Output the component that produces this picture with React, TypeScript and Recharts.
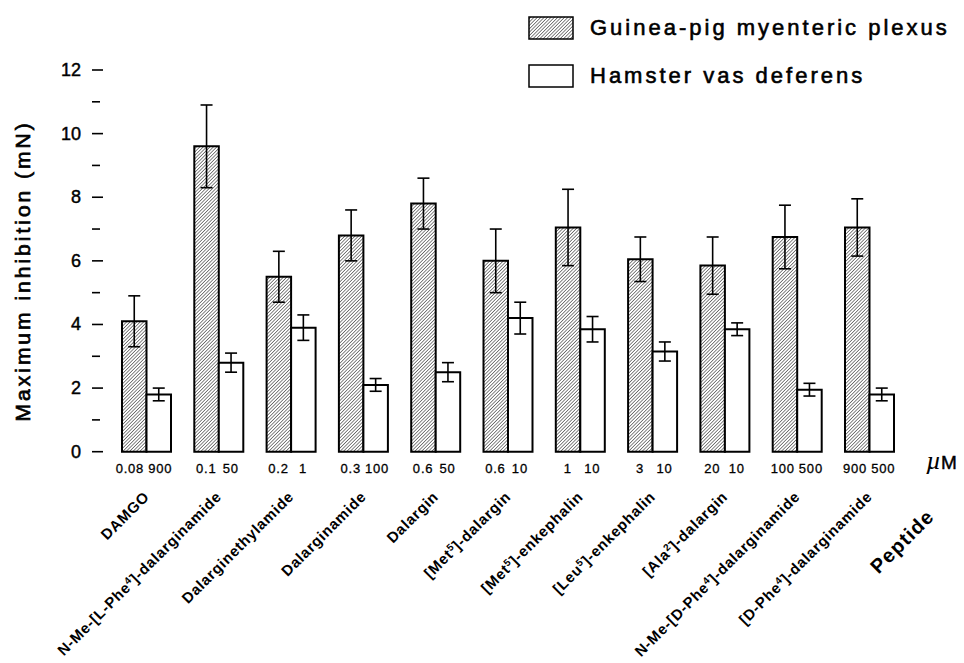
import { BarChart, Bar, XAxis, YAxis, ErrorBar, Legend } from 'recharts'

const FONT = '"Liberation Sans", Arial, Helvetica, sans-serif'

// peptides and the concentrations (µM) tested in each tissue
const categories = [
  'DAMGO',
  'N-Me-[L-Phe⁴]-dalarginamide',
  'Dalarginethylamide',
  'Dalarginamide',
  'Dalargin',
  '[Met⁵]-dalargin',
  '[Met⁵]-enkephalin',
  '[Leu⁵]-enkephalin',
  '[Ala²]-dalargin',
  'N-Me-[D-Phe⁴]-dalarginamide',
  '[D-Phe⁴]-dalarginamide',
]
const guineaPigConc = ['0.08', '0.1', '0.2', '0.3', '0.6', '0.6', '1', '3', '20', '100', '900']
const hamsterConc = ['900', '50', '1', '100', '50', '10', '10', '10', '10', '500', '500']

// maximum inhibition (mN), mean and s.e.m.
const guineaPig = [4.1, 9.6, 5.5, 6.8, 7.8, 6.0, 7.05, 6.05, 5.85, 6.75, 7.05]
const guineaPigSem = [0.8, 1.3, 0.8, 0.8, 0.8, 1.0, 1.2, 0.7, 0.9, 1.0, 0.9]
const hamster = [1.8, 2.8, 3.9, 2.1, 2.5, 4.2, 3.85, 3.15, 3.85, 1.95, 1.8]
const hamsterSem = [0.2, 0.3, 0.4, 0.2, 0.3, 0.5, 0.4, 0.3, 0.2, 0.2, 0.2]

const yTicks = [0, 1, 2, 3, 4, 5, 6, 7, 8, 9, 10, 11, 12]

const data = categories.map((name, i) => ({
  name,
  guinea: guineaPig[i],
  guineaSem: guineaPigSem[i],
  hamster: hamster[i],
  hamsterSem: hamsterSem[i],
}))

const BAR = 24.5
// slight outline so the thin sans reads as the heavier print face
const INK = { stroke: '#000', strokeWidth: 0.45 }

const SUPERS: Record<string, string> = { '²': '2', '⁴': '4', '⁵': '5' }

// split names so superscript digits get raised in a smaller size
function renderName(name: string) {
  const parts: JSX.Element[] = []
  let buf = ''
  let raised = false
  let k = 0
  for (const ch of name) {
    if (SUPERS[ch]) {
      if (buf) parts.push(<tspan key={k++} dy={raised ? 5 : 0}>{buf}</tspan>)
      parts.push(<tspan key={k++} dy={-5} fontSize={10}>{SUPERS[ch]}</tspan>)
      buf = ''
      raised = true
    } else {
      buf += ch
    }
  }
  if (buf) parts.push(<tspan key={k++} dy={raised ? 5 : 0}>{buf}</tspan>)
  return parts
}

// concentration under its own bar; long numbers hug the middle of the pair instead
function ConcLabel({ x, y, value, side }: { x: number; y: number; value: string; side: -1 | 1 }) {
  const wide = value.length >= 3
  const anchor = wide ? (side < 0 ? 'end' : 'start') : 'middle'
  const tx = wide ? x + side * 2 : x + (side * BAR) / 2
  return (
    <text x={tx} y={y} textAnchor={anchor} fontSize={13} letterSpacing={0.8} {...INK} strokeWidth={0.3}>
      {value}
    </text>
  )
}

function XTick(props: any) {
  const { x, y, payload, index } = props
  const band = payload && payload.offset ? payload.offset * 2 : 72.3
  const last = index === categories.length - 1
  return (
    <g fontFamily={FONT} fill="#000">
      <ConcLabel x={x} y={y + 21} value={guineaPigConc[index]} side={-1} />
      <ConcLabel x={x} y={y + 21} value={hamsterConc[index]} side={1} />
      <text
        transform={`translate(${x + 4},${y + 46}) rotate(-45)`}
        textAnchor="end"
        fontSize={15}
        fontWeight="bold"
        letterSpacing={0.7}
      >
        {renderName(payload.value)}
      </text>
      {last && (
        <>
          <text x={x + band} y={y + 17} textAnchor="middle">
            <tspan fontFamily='"Liberation Serif", serif' fontStyle="italic" fontSize={26}>µ</tspan>
            <tspan fontSize={19} {...INK}>M</tspan>
          </text>
          <text
            transform={`translate(${x + band - 6},${y + 66}) rotate(-45)`}
            textAnchor="end"
            fontSize={20}
            fontWeight="bold"
            letterSpacing={1.2}
          >
            Peptide
          </text>
        </>
      )}
    </g>
  )
}

function YTick(props: any) {
  const { x, y, payload } = props
  const major = payload.value % 2 === 0
  return (
    <g>
      <line x1={x - 18} x2={major ? x - 7 : x - 10} y1={y} y2={y} stroke="#000" strokeWidth={1.6} />
      {major && (
        <text
          x={x - 29}
          y={y}
          textAnchor="end"
          dominantBaseline="central"
          fontSize={18}
          fontFamily={FONT}
          fill="#000"
          {...INK}
        >
          {payload.value}
        </text>
      )}
    </g>
  )
}

function YTitle(props: any) {
  const vb = props.viewBox || { x: 0, y: 70, width: 110, height: 382 }
  const cx = vb.x + 23
  const cy = vb.y + vb.height / 2 + 10
  return (
    <text
      x={cx}
      y={cy}
      transform={`rotate(-90, ${cx}, ${cy})`}
      textAnchor="middle"
      dominantBaseline="central"
      fontSize={21}
      letterSpacing={3}
      fontFamily={FONT}
      fill="#000"
      {...INK}
      strokeWidth={0.7}
    >
      Maximum inhibition (mN)
    </text>
  )
}

function LegendBox(props: any) {
  const items = props.payload || []
  return (
    <div
      style={{
        fontFamily: FONT,
        fontSize: 22,
        letterSpacing: 3,
        color: '#000',
        WebkitTextStroke: '0.6px #000',
      }}
    >
      {items.map((item: any) => (
        <div key={item.value} style={{ display: 'flex', alignItems: 'center', height: 24, marginBottom: 24 }}>
          <svg width={46} height={24} style={{ flex: 'none' }}>
            <rect x={1} y={1} width={44} height={22} fill={item.payload?.fill ?? item.color} stroke="#000" strokeWidth={1.5} />
          </svg>
          <span style={{ marginLeft: 16, whiteSpace: 'nowrap' }}>{item.value}</span>
        </div>
      ))}
    </div>
  )
}

export default function App() {
  return (
    <div style={{ position: 'absolute', left: 0, top: 0, width: 964, height: 663, background: '#fff' }}>
      <BarChart
        width={964}
        height={663}
        data={data}
        margin={{ top: 70, right: 58.7, bottom: 0, left: 0 }}
        barGap={0}
        barSize={BAR}
      >
        <defs>
          <pattern id="hatch" patternUnits="userSpaceOnUse" width="2.4" height="2.4" patternTransform="rotate(45)">
            <rect width="2.4" height="2.4" fill="#fff" />
            <line x1="0" y1="0" x2="0" y2="2.4" stroke="#222" strokeWidth="1.1" />
          </pattern>
        </defs>
        <XAxis
          dataKey="name"
          height={211.3}
          axisLine={false}
          tickLine={false}
          tickSize={0}
          tickMargin={0}
          interval={0}
          tick={<XTick />}
        />
        <YAxis
          type="number"
          domain={[0, 12]}
          ticks={yTicks}
          interval={0}
          width={110}
          axisLine={false}
          tickLine={false}
          tickSize={0}
          tickMargin={0}
          tick={<YTick />}
          label={<YTitle />}
        />
        <Legend
          layout="vertical"
          align="center"
          verticalAlign="middle"
          wrapperStyle={{ left: 528, top: 16, width: 436 }}
          content={<LegendBox />}
        />
        <Bar
          dataKey="guinea"
          name="Guinea-pig myenteric plexus"
          fill="url(#hatch)"
          stroke="#000"
          strokeWidth={2}
          isAnimationActive={false}
        >
          <ErrorBar dataKey="guineaSem" width={6} stroke="#000" strokeWidth={1.6} direction="y" isAnimationActive={false} />
        </Bar>
        <Bar
          dataKey="hamster"
          name="Hamster vas deferens"
          fill="#fff"
          stroke="#000"
          strokeWidth={2}
          isAnimationActive={false}
        >
          <ErrorBar dataKey="hamsterSem" width={6} stroke="#000" strokeWidth={1.6} direction="y" isAnimationActive={false} />
        </Bar>
      </BarChart>
    </div>
  )
}
